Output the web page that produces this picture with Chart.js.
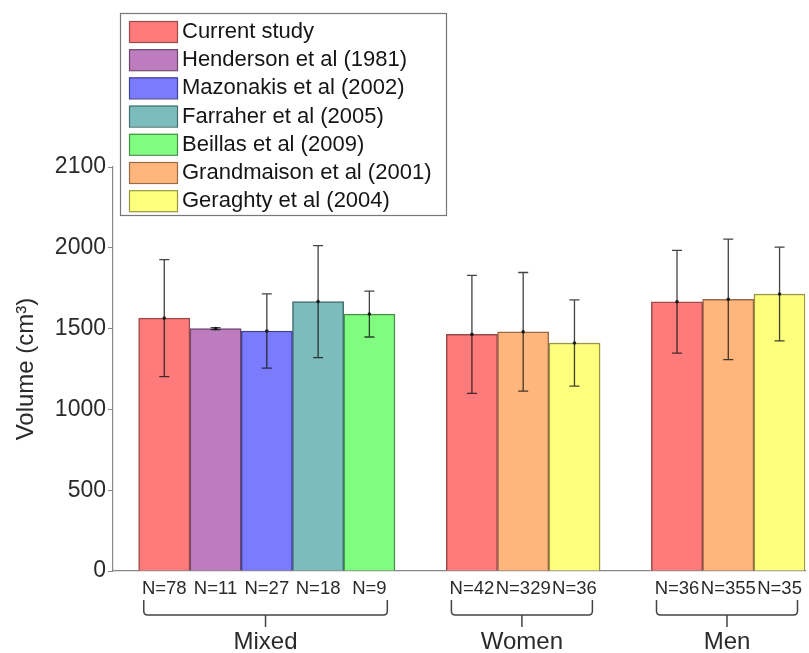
<!DOCTYPE html>
<html>
<head>
<meta charset="utf-8">
<script src="https://cdn.jsdelivr.net/npm/chart.js@4"></script>
<style>
  html, body { margin: 0; padding: 0; background: #fff; }
  #wrap { width: 809px; height: 653px; }
</style>
</head>
<body>
<div id="wrap"><canvas id="volume-chart"></canvas></div>
<script>
// one entry per bar, left to right
const barStudy = [
  "Current study", "Henderson et al (1981)", "Mazonakis et al (2002)", "Farraher et al (2005)", "Beillas et al (2009)",
  "Current study", "Grandmaison et al (2001)", "Geraghty et al (2004)",
  "Current study", "Grandmaison et al (2001)", "Geraghty et al (2004)"
];
const barX = [1, 2, 3, 4, 5, 7, 8, 9, 11, 12, 13];
const barMean = [1565, 1500, 1485, 1667, 1590, 1464, 1480, 1411, 1666, 1681, 1714];
const barSD = [362, 6, 230, 347, 142, 365, 367, 267, 318, 373, 290];
const nLabels = ["N=78", "N=11", "N=27", "N=18", "N=9", "N=42", "N=329", "N=36", "N=36", "N=355", "N=35"];

const groups = ["Mixed", "Women", "Men"];
const groupFirst = [1, 7, 11];
const groupLast = [5, 9, 13];

const studies = [
  "Current study", "Henderson et al (1981)", "Mazonakis et al (2002)", "Farraher et al (2005)",
  "Beillas et al (2009)", "Grandmaison et al (2001)", "Geraghty et al (2004)"
];
const fills = ["#ff7a7a", "#bd7cbd", "#7b7bff", "#7dbcbc", "#80fc80", "#ffb67c", "#ffff7e"];
const edges = ["#9c4a4a", "#6d476d", "#3f3f95", "#436f6f", "#459245", "#9a6c46", "#96963f"];

const yTickValues = [0, 500, 1000, 1500, 2000, 2500];
const yTickLabels = ["0", "500", "1000", "1500", "2000", "2100"];

Chart.defaults.font.family = "'Liberation Sans', Arial, sans-serif";
Chart.defaults.color = "#2a2a2a";

const datasets = studies.map((name, s) => {
  const idx = barStudy.map((b, i) => (b === name ? i : -1)).filter(i => i >= 0);
  return {
    label: name,
    data: idx.map(i => ({ x: barX[i], y: barMean[i] })),
    errors: idx.map(i => barSD[i]),
    backgroundColor: fills[s],
    borderColor: edges[s],
    borderWidth: 1.5,
    grouped: false,
    barPercentage: 1,
    categoryPercentage: 1,
  };
});

const errorBars = {
  id: "errorBars",
  afterDatasetsDraw(chart) {
    const ctx = chart.ctx;
    const y = chart.scales.y;
    ctx.save();
    ctx.strokeStyle = "rgba(20,20,20,0.8)";
    ctx.fillStyle = "rgba(20,20,20,0.9)";
    ctx.lineWidth = 1.3;
    chart.data.datasets.forEach((ds, d) => {
      chart.getDatasetMeta(d).data.forEach((bar, i) => {
        const m = ds.data[i].y, e = ds.errors[i];
        const top = y.getPixelForValue(m + e), bot = y.getPixelForValue(m - e);
        ctx.beginPath();
        ctx.moveTo(bar.x, top); ctx.lineTo(bar.x, bot);
        ctx.moveTo(bar.x - 5, top); ctx.lineTo(bar.x + 5, top);
        ctx.moveTo(bar.x - 5, bot); ctx.lineTo(bar.x + 5, bot);
        ctx.stroke();
        ctx.beginPath();
        ctx.arc(bar.x, y.getPixelForValue(m), 1.8, 0, Math.PI * 2);
        ctx.fill();
      });
    });
    ctx.restore();
  }
};

const groupBrackets = {
  id: "groupBrackets",
  afterDraw(chart) {
    const ctx = chart.ctx;
    const x = chart.scales.x;
    ctx.save();
    ctx.strokeStyle = "#444";
    ctx.lineWidth = 1.5;
    groups.forEach((g, k) => {
      const l = x.getPixelForValue(groupFirst[k] - 0.4);
      const r = x.getPixelForValue(groupLast[k] + 0.35);
      const c = (l + r) / 2;
      const y0 = 600, y1 = 615, r0 = 4;
      ctx.beginPath();
      ctx.moveTo(l, y0);
      ctx.lineTo(l, y1 - r0);
      ctx.quadraticCurveTo(l, y1, l + r0, y1);
      ctx.lineTo(r - r0, y1);
      ctx.quadraticCurveTo(r, y1, r, y1 - r0);
      ctx.lineTo(r, y0);
      ctx.moveTo(c, y1);
      ctx.lineTo(c, y1 + 12);
      ctx.stroke();
      ctx.fillStyle = "#2a2a2a";
      ctx.font = "24px 'Liberation Sans', Arial, sans-serif";
      ctx.textAlign = "center";
      ctx.textBaseline = "middle";
      ctx.fillText(g, c, 642);
    });
    ctx.restore();
  }
};

const boxedLegend = {
  id: "boxedLegend",
  afterDraw(chart) {
    const ctx = chart.ctx;
    ctx.save();
    ctx.fillStyle = "#fff";
    ctx.fillRect(120, 13, 326, 202);
    ctx.strokeStyle = "#777";
    ctx.lineWidth = 1.2;
    ctx.strokeRect(120.5, 13.5, 326, 202);
    ctx.font = "22px 'Liberation Sans', Arial, sans-serif";
    ctx.textBaseline = "middle";
    chart.data.datasets.forEach((ds, i) => {
      const top = 21 + i * 28.2;
      ctx.fillStyle = ds.backgroundColor;
      ctx.fillRect(129, top, 48, 21);
      ctx.strokeStyle = ds.borderColor;
      ctx.strokeRect(129.5, top + 0.5, 48, 21);
      ctx.fillStyle = "#151515";
      ctx.fillText(ds.label, 182, top + 11);
    });
    ctx.restore();
  }
};

new Chart(document.getElementById("volume-chart"), {
  type: "bar",
  data: { datasets },
  options: {
    responsive: true,
    maintainAspectRatio: false,
    animation: false,
    layout: { padding: { top: 167, right: 2, left: 0, bottom: 0 } },
    plugins: {
      legend: { display: false },
      tooltip: { enabled: false },
    },
    scales: {
      x: {
        type: "linear",
        offset: false,
        min: 0,
        max: 13.5,
        afterBuildTicks: (scale) => { scale.ticks = barX.map(v => ({ value: v })); },
        afterFit: (scale) => { scale.height = 82; },
        grid: { display: false, drawTicks: false },
        border: { color: "#888", width: 1.2 },
        ticks: {
          autoSkip: false,
          maxRotation: 0,
          padding: 7,
          font: { size: 18.5 },
          callback: (v) => nLabels[barX.indexOf(v)],
        },
      },
      y: {
        min: 0,
        max: 2500,
        afterBuildTicks: (scale) => { scale.ticks = yTickValues.map(v => ({ value: v })); },
        afterFit: (scale) => { scale.width = 113; },
        grid: { drawOnChartArea: false, drawTicks: true, tickLength: 5, color: "#888" },
        border: { color: "#888", width: 1.2 },
        ticks: {
          padding: 2,
          font: { size: 23 },
          callback: (v) => yTickLabels[yTickValues.indexOf(v)],
        },
        title: {
          display: true,
          text: "Volume (cm³)",
          font: { size: 24 },
          padding: { top: 12, bottom: 0 },
        },
      },
    },
  },
  plugins: [errorBars, groupBrackets, boxedLegend],
});
</script>
</body>
</html>
